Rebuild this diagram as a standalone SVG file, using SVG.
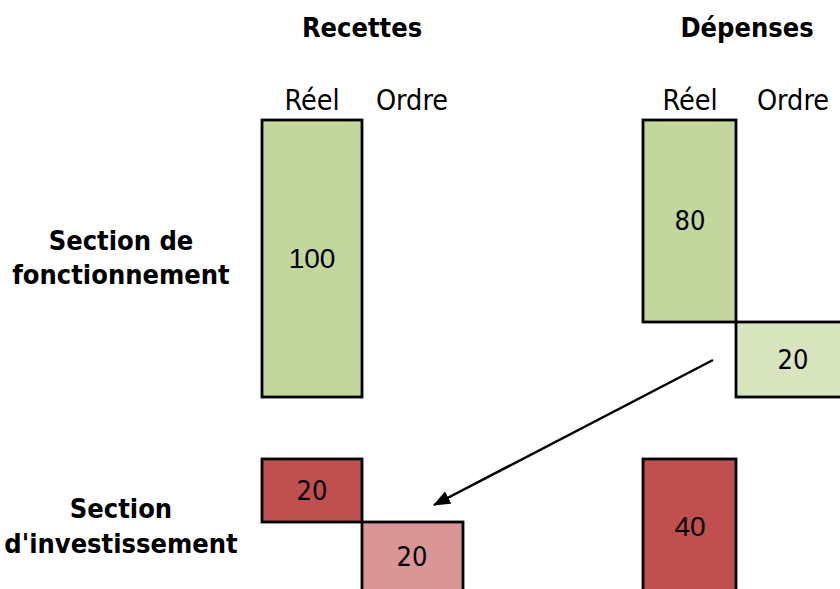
<svg xmlns="http://www.w3.org/2000/svg" width="840" height="589" viewBox="0 0 840 589">
<style>
.box{stroke:#000;stroke-width:2.8}
.g{fill:#C3D69B}.lg{fill:#D7E4BD}.r{fill:#C0504D}.p{fill:#D99694}
.t{font-family:"DejaVu Sans Condensed","DejaVu Sans",sans-serif;font-size:27px;fill:#000;text-anchor:middle}
.c{font-size:28.5px}
.b{font-weight:bold}
.n{font-family:"DejaVu Sans Condensed","DejaVu Sans",sans-serif;font-size:27px;fill:#000;text-anchor:middle}
.a{font-family:"Liberation Sans",Arial,sans-serif;font-size:28px;fill:#000;text-anchor:middle}
</style>
<defs>
<marker id="ah" markerWidth="17" markerHeight="14" refX="16" refY="7" orient="auto" markerUnits="userSpaceOnUse" viewBox="0 0 17 14">
<path d="M0,0 L17,7 L0,14 z" fill="#000"/>
</marker>
</defs>
<rect width="840" height="589" fill="#fff"/>
<g id="headers">
<text class="t b" x="362" y="37">Recettes</text>
<text class="t b" x="747" y="37">Dépenses</text>
<text class="t c" x="312" y="110">Réel</text>
<text class="t c" x="412" y="110">Ordre</text>
<text class="t c" x="690" y="110">Réel</text>
<text class="t c" x="793" y="110">Ordre</text>
</g>
<g id="row-labels">
<text class="t b" x="121" y="250">Section de</text>
<text class="t b" x="121" y="284">fonctionnement</text>
<text class="t b" x="121" y="518">Section</text>
<text class="t b" x="121" y="553">d'investissement</text>
</g>
<g id="rec-fonct-reel"><rect class="box g" x="262" y="120" width="100" height="277"/><text class="a" x="312" y="268">100</text></g>
<g id="dep-fonct-reel"><rect class="box g" x="643" y="120" width="93" height="202"/><text class="n" x="690" y="230">80</text></g>
<g id="dep-fonct-ordre"><rect class="box lg" x="736" y="322" width="110" height="75"/><text class="n" x="793" y="369">20</text></g>
<g id="rec-inv-reel"><rect class="box r" x="262" y="459" width="100" height="63"/><text class="n" x="312" y="500">20</text></g>
<g id="rec-inv-ordre"><rect class="box p" x="362" y="522" width="101" height="80"/><text class="n" x="412" y="566">20</text></g>
<g id="dep-inv-reel"><rect class="box r" x="643" y="459" width="93" height="140"/><text class="a" x="690" y="536">40</text></g>
<g id="connectors">
<line x1="713" y1="360" x2="434" y2="505" stroke="#000" stroke-width="2.5" marker-end="url(#ah)"/>
</g>
</svg>
